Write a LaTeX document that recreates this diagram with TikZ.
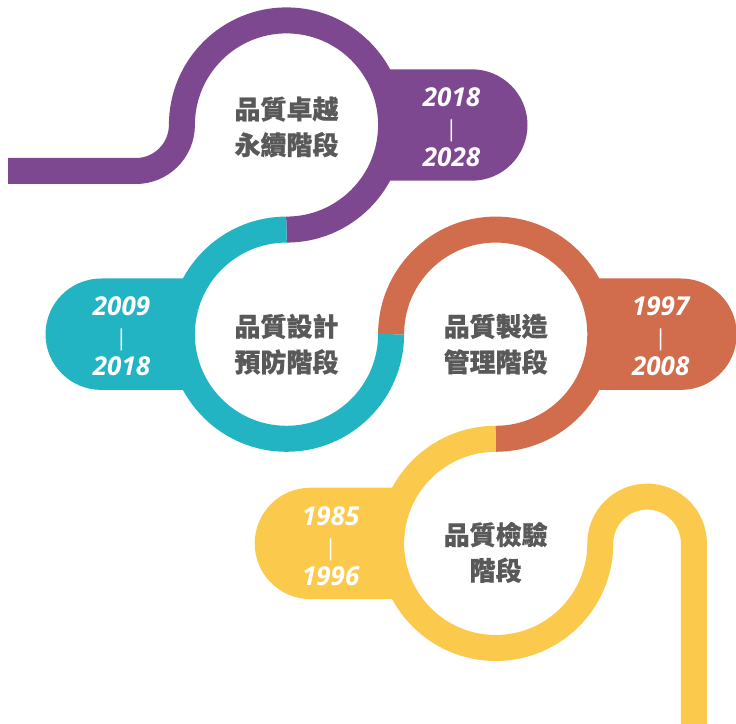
\documentclass[tikz,border=0pt]{standalone}
\usepackage{fontspec}
\newfontfamily\cjkfont{Noto Sans CJK TC}[FakeBold=0.6]
\newfontfamily\yearfont{Open Sans}
\definecolor{qpurple}{HTML}{7D4890}
\definecolor{qteal}{HTML}{22B4C3}
\definecolor{qorange}{HTML}{D16C4C}
\definecolor{qyellow}{HTML}{FBC94C}
\definecolor{textgray}{HTML}{595959}
\newcommand{\yearbar}{{\mdseries\upshape\fontsize{22}{30}\selectfont|}}

\begin{document}
\begin{tikzpicture}[x=1pt,y=1pt,
  ring/.style={line width=26pt},
  pill/.style={rounded corners=55.7pt},
  stage/.style={font=\cjkfont\bfseries\fontsize{26}{35.7}\selectfont,text=textgray,align=center,inner sep=0pt},
  years/.style={font=\yearfont\bfseries\itshape\fontsize{26}{30}\selectfont,text=white,align=center,inner sep=0pt}]
\useasboundingbox (0,0) rectangle (736,723);
\coordinate (P) at (286.5,598);
\coordinate (T) at (286.5,388.8);
\coordinate (O) at (495.7,388.8);
\coordinate (Y) at (495.7,179.6);
\fill[qpurple,pill] (286.5,542.3) rectangle (527.5,653.7);
\fill[qteal,pill] (45.5,333.1) rectangle (286.5,444.5);
\fill[qorange,pill] (495.7,333.1) rectangle (736.7,444.5);
\fill[qyellow,pill] (254.7,123.9) rectangle (495.7,235.3);
\foreach \c in {P,T,O,Y} \fill[white] (\c) circle (104.6);
\draw[qpurple,ring] (8,552) -- (135.9,552) arc (270:360:46) arc (180:-90:104.6);
\draw[qteal,ring] ([yshift=104.6pt]T) arc (90:360:104.6);
\draw[qorange,ring] ([xshift=-104.6pt]O) arc (180:-90:104.6);
\draw[qyellow,ring] ([yshift=104.6pt]Y) arc (90:360:104.6) arc (180:0:46.8) -- (693.9,-5);
\node[stage] (s1) at ([yshift=-2pt]P) {品質卓越\\永續階段};
\node[stage] (s2) at ([yshift=-10pt]T) {品質設計\\預防階段};
\node[stage] (s3) at ([yshift=-10pt]O) {品質製造\\管理階段};
\node[stage] (s4) at ([yshift=-9pt]Y) {品質檢驗\\階段};
\node[years] (y1) at ([xshift=165pt,yshift=-2.5pt]P) {2018\\\yearbar\\2028};
\node[years] (y2) at ([xshift=-165pt,yshift=-2.5pt]T) {2009\\\yearbar\\2018};
\node[years] (y3) at ([xshift=165pt,yshift=-2.5pt]O) {1997\\\yearbar\\2008};
\node[years] (y4) at ([xshift=-165pt,yshift=-2.5pt]Y) {1985\\\yearbar\\1996};
\end{tikzpicture}
\end{document}
